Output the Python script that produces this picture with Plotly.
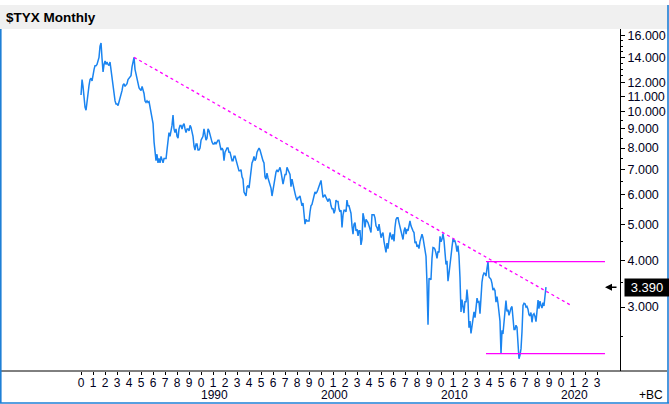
import math
import pandas as pd
import plotly.graph_objects as go

# ---------------- data ----------------
START_MONTH = "1980-01-01"
TYX_CLOSE = [
    # 1980
    11.1, 12.2, 11.7, 10.8, 10.3, 10.1, 10.8, 11.3, 11.8, 12.2, 12.3, 12.1,
    # 1981
    12.8, 13.0, 13.3, 13.3, 13.4, 13.8, 14.0, 15.0, 15.3, 13.9, 12.8, 13.4,
    # 1982
    13.7, 13.4, 13.6, 13.4, 13.3, 13.6, 12.9, 12.2, 11.6, 11.0, 10.7, 10.5,
    # 1983
    10.5, 10.4, 10.6, 10.8, 11.2, 11.4, 11.8, 11.9, 11.7, 11.8, 11.9, 12.2,
    # 1984
    12.3, 12.4, 12.5, 13.2, 13.8, 14.0, 13.0, 12.6, 12.4, 11.9, 11.6, 11.5,
    # 1985
    11.4, 11.7, 11.5, 11.2, 10.7, 10.6, 10.7, 10.6, 10.65, 10.3, 9.9, 9.4,
    # 1986
    9.3, 8.3, 7.6, 7.4, 7.7, 7.3, 7.5, 7.3, 7.6, 7.4, 7.3, 7.5,
    # 1987
    7.5, 7.5, 7.9, 8.5, 8.8, 8.6, 8.9, 9.2, 9.8, 9.0, 8.8, 9.0,
    # 1988
    8.6, 8.5, 9.0, 9.2, 9.2, 9.0, 9.2, 9.3, 9.0, 8.8, 9.0, 9.0,
    # 1989
    8.9, 9.2, 9.1, 8.9, 8.6, 8.1, 7.9, 8.2, 8.2, 7.9, 7.9, 8.0,
    # 1990
    8.4, 8.5, 8.6, 9.0, 8.6, 8.4, 8.5, 9.0, 8.9, 8.7, 8.4, 8.3,
    # 1991
    8.2, 8.2, 8.3, 8.2, 8.3, 8.4, 8.4, 8.1, 7.9, 8.0, 7.9, 7.4,
    # 1992
    7.8, 7.9, 8.0, 8.0, 7.8, 7.8, 7.5, 7.4, 7.4, 7.6, 7.6, 7.4,
    # 1993
    7.2, 7.0, 6.95, 6.95, 7.0, 6.7, 6.6, 6.1, 6.0, 5.95, 6.3, 6.35,
    # 1994
    6.25, 6.7, 7.1, 7.3, 7.4, 7.6, 7.4, 7.5, 7.8, 7.95, 8.0, 7.9,
    # 1995
    7.7, 7.5, 7.4, 7.3, 6.7, 6.6, 6.85, 6.65, 6.5, 6.35, 6.25, 5.95,
    # 1996
    6.2, 6.5, 6.7, 6.9, 7.0, 6.9, 7.0, 7.1, 6.9, 6.6, 6.4, 6.6,
    # 1997
    6.8, 6.8, 7.1, 7.0, 6.9, 6.8, 6.3, 6.6, 6.4, 6.15, 6.05, 5.9,
    # 1998
    5.8, 5.9, 5.9, 5.95, 5.8, 5.6, 5.7, 5.3, 5.0, 5.15, 5.1, 5.1,
    # 1999
    5.1, 5.4, 5.6, 5.65, 5.8, 6.0, 6.1, 6.05, 6.1, 6.2, 6.3, 6.45,
    # 2000
    6.55, 6.2, 5.9, 5.95, 6.0, 5.9, 5.8, 5.75, 5.85, 5.8, 5.6, 5.5,
    # 2001
    5.5, 5.35, 5.45, 5.8, 5.75, 5.75, 5.5, 5.4, 5.45, 4.9, 5.3, 5.45,
    # 2002
    5.45, 5.4, 5.8, 5.6, 5.6, 5.5, 5.35, 4.95, 4.7, 5.0, 5.05, 4.8,
    # 2003
    4.85, 4.65, 4.8, 4.8, 4.4, 4.55, 5.35, 5.2, 4.9, 5.15, 5.1, 5.05,
    # 2004
    4.95, 4.85, 4.75, 5.3, 5.3, 5.3, 5.2, 4.95, 4.9, 4.8, 5.0, 4.85,
    # 2005
    4.6, 4.7, 4.75, 4.5, 4.3, 4.2, 4.45, 4.3, 4.55, 4.75, 4.65, 4.55,
    # 2006
    4.7, 4.5, 4.9, 5.15, 5.2, 5.2, 5.05, 4.9, 4.75, 4.7, 4.55, 4.8,
    # 2007
    4.9, 4.7, 4.85, 4.8, 5.0, 5.1, 4.95, 4.85, 4.8, 4.75, 4.45, 4.5,
    # 2008
    4.35, 4.4, 4.3, 4.5, 4.6, 4.7, 4.6, 4.45, 4.3, 4.1, 3.45, 2.69,
    # 2009
    3.58, 3.55, 3.55, 4.05, 4.33, 4.32, 4.28, 4.18, 4.05, 4.23, 4.2, 4.64,
    # 2010
    4.49, 4.56, 4.72, 4.53, 4.22, 3.9, 3.99, 3.52, 3.69, 3.98, 4.11, 4.34,
    # 2011
    4.57, 4.5, 4.51, 4.4, 4.22, 4.38, 4.12, 3.6, 2.91, 3.14, 3.0, 2.89,
    # 2012
    3.11, 3.09, 3.34, 3.12, 2.64, 2.75, 2.55, 2.68, 2.82, 2.91, 2.81, 2.95,
    # 2013
    3.17, 3.09, 3.1, 2.88, 3.28, 3.5, 3.64, 3.7, 3.69, 3.63, 3.81, 3.97,
    # 2014
    3.61, 3.59, 3.56, 3.47, 3.33, 3.36, 3.32, 3.09, 3.2, 3.07, 2.89, 2.75,
    # 2015
    2.25, 2.6, 2.54, 2.75, 2.88, 3.12, 2.92, 2.95, 2.85, 2.92, 2.98, 3.01,
    # 2016
    2.75, 2.61, 2.61, 2.68, 2.65, 2.29, 2.18, 2.23, 2.32, 2.58, 3.03, 3.07,
    # 2017
    3.06, 3.0, 3.01, 2.96, 2.86, 2.84, 2.9, 2.73, 2.86, 2.88, 2.83, 2.74,
    # 2018
    2.95, 3.13, 2.97, 3.11, 3.03, 2.98, 3.08, 3.02, 3.21, 3.39,
]

TREND_DATES = ["1984-06-01", "2020-12-01"]
TREND_VALUES = [14.0, 3.02]
LEVEL_DATES = ["2013-10-01", "2023-09-01"]
RESISTANCE = 3.97
SUPPORT = 2.25

Y_TICKS = [3, 4, 5, 6, 7, 8, 9, 10, 11, 12, 14, 16]
Y_MINOR = [2.5, 3.5, 4.5, 5.5, 6.5, 7.5, 8.5, 9.5, 12.5, 13, 13.5, 14.5, 15, 15.5]
YEARS = list(range(1980, 2024))
DECADES = [1990, 2000, 2010, 2020]
TITLE = "$TYX Monthly"

# ---------------- figure ----------------
W, H = 669, 404
ML, MR, MT, MB = 2, 49, 29, 33
PW, PH = W - ML - MR, H - MT - MB

dates = pd.date_range(START_MONTH, periods=len(TYX_CLOSE), freq="MS")
last_val = TYX_CLOSE[-1]

FONT = "Liberation Sans, Arial, sans-serif"
BLUE = "#1a84f0"
MAG = "#ff00ff"

fig = go.Figure()
fig.add_trace(go.Scatter(x=dates, y=TYX_CLOSE, mode="lines",
                         line=dict(color=BLUE, width=1.5), hoverinfo="skip"))
fig.add_trace(go.Scatter(x=TREND_DATES, y=TREND_VALUES, mode="lines",
                         line=dict(color=MAG, width=1.3, dash="3px,3px"), hoverinfo="skip"))
fig.add_trace(go.Scatter(x=LEVEL_DATES, y=[RESISTANCE, RESISTANCE], mode="lines",
                         line=dict(color=MAG, width=1.3), hoverinfo="skip"))
fig.add_trace(go.Scatter(x=LEVEL_DATES, y=[SUPPORT, SUPPORT], mode="lines",
                         line=dict(color=MAG, width=1.3), hoverinfo="skip"))

def px_to_paper_x(px):
    return (px - ML) / PW

def py_to_paper_y(py):
    return (H - MB - py) / PH

shapes = [
    # grey title band
    dict(type="rect", xref="paper", yref="paper", layer="below",
         x0=px_to_paper_x(0), x1=px_to_paper_x(W), y0=py_to_paper_y(29), y1=py_to_paper_y(5),
         fillcolor="#f0f0f0", line=dict(width=0)),
    # bottom axis line across the whole width
    dict(type="line", xref="paper", yref="paper",
         x0=px_to_paper_x(1), x1=px_to_paper_x(667), y0=0, y1=0,
         line=dict(color="black", width=1)),
    # blue frame
    dict(type="line", xref="paper", yref="paper",
         x0=px_to_paper_x(0.8), x1=px_to_paper_x(0.8), y0=py_to_paper_y(29), y1=py_to_paper_y(403),
         line=dict(color="#1e7fd6", width=1.6)),
    dict(type="line", xref="paper", yref="paper",
         x0=px_to_paper_x(0), x1=px_to_paper_x(W), y0=py_to_paper_y(403), y1=py_to_paper_y(403),
         line=dict(color="#1e7fd6", width=1.6)),
    dict(type="line", xref="paper", yref="paper",
         x0=px_to_paper_x(668), x1=px_to_paper_x(668), y0=py_to_paper_y(5), y1=py_to_paper_y(403),
         line=dict(color="#1e7fd6", width=1.6)),
]

annotations = []
for d in DECADES:
    annotations.append(dict(x=f"{d}-01-01", xref="x", y=py_to_paper_y(395), yref="paper",
                            text=str(d), showarrow=False, xanchor="left", yanchor="middle",
                            xshift=-1, borderpad=0, height=12,
                            font=dict(family=FONT, size=12, color="#000020")))
annotations.append(dict(x=px_to_paper_x(664), xref="paper", y=py_to_paper_y(395), yref="paper",
                        text="+BC", showarrow=False, xanchor="right", yanchor="middle",
                        borderpad=0, height=12,
                        font=dict(family=FONT, size=12, color="black")))
# last value box
annotations.append(dict(x=px_to_paper_x(624), xref="paper", y=math.log10(last_val), yref="y",
                        text=f"{last_val:.3f}", showarrow=False, xanchor="left", yanchor="middle",
                        bgcolor="black", borderpad=2, width=40, height=13,
                        font=dict(family=FONT, size=13, color="white")))
# arrow pointing at the last value
annotations.append(dict(x=px_to_paper_x(605), xref="paper", y=math.log10(last_val), yref="y",
                        text="", showarrow=True, ax=13, ay=0, arrowhead=2, arrowsize=1,
                        arrowwidth=1.4, arrowcolor="black"))

fig.update_layout(
    width=W, height=H,
    margin=dict(l=ML, r=MR, t=MT, b=MB),
    paper_bgcolor="white", plot_bgcolor="white",
    showlegend=False, hovermode=False,
    title=dict(text=f"<b>{TITLE}</b>", x=6 / W, xanchor="left", xref="container",
               y=1 - 17 / H, yanchor="middle", yref="container",
               font=dict(family=FONT, size=13.5, color="black")),
    shapes=shapes, annotations=annotations,
    font=dict(family=FONT, size=12, color="black"),
)

fig.update_xaxes(
    type="date", range=["1973-05-31", "2024-12-01"],
    showgrid=False, zeroline=False, showline=False,
    tickvals=[f"{y}-01-01" for y in YEARS], ticktext=[str(y % 10) for y in YEARS],
    ticks="outside", ticklen=3, tickcolor="black", tickwidth=1,
    ticklabelstandoff=-2,
    tickfont=dict(family=FONT, size=12, color="#000020"),
)
fig.update_yaxes(
    type="log", side="right",
    range=[math.log10(3) - (371 - 307) / 373.2, math.log10(16) + (35.7 - 29) / 373.2],
    showgrid=False, zeroline=False, showline=True, linecolor="black", linewidth=1,
    tickvals=Y_TICKS, ticktext=[f"{v:.3f}" for v in Y_TICKS],
    ticks="outside", ticklen=4, tickcolor="black", tickwidth=1,
    minor=dict(tickvals=Y_MINOR, ticks="outside", ticklen=2, tickcolor="black", showgrid=False),
    tickfont=dict(family=FONT, size=12.5, color="#000020"),
)

fig.write_html("out.html", config={"displayModeBar": False},
               post_script="document.body.style.margin='0';document.body.style.overflow='hidden';")
